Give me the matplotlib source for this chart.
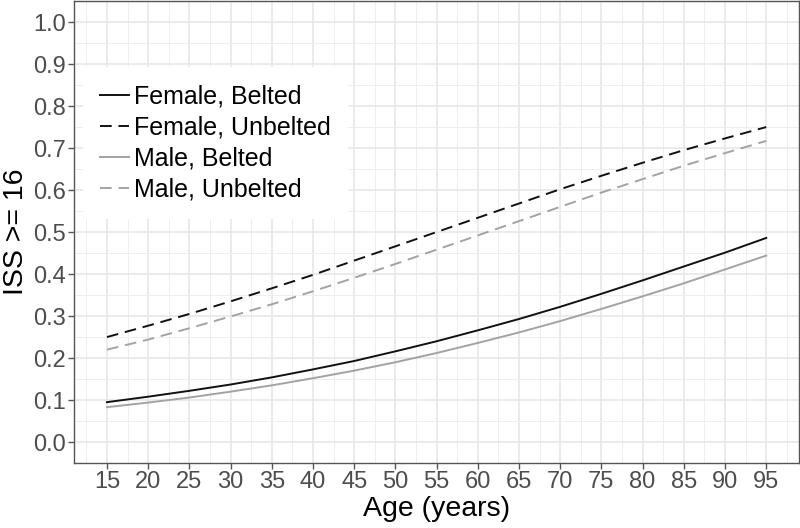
import matplotlib
matplotlib.use("Agg")
import matplotlib.pyplot as plt
from matplotlib.ticker import MultipleLocator, FormatStrFormatter

plt.rcParams["font.family"] = ["Liberation Sans", "DejaVu Sans"]

ages = [15, 20, 25, 30, 35, 40, 45, 50, 55, 60, 65, 70, 75, 80, 85, 90, 95]
female_belted = [0.095, 0.108, 0.122, 0.137, 0.154, 0.173, 0.193, 0.216, 0.240,
                 0.266, 0.293, 0.322, 0.353, 0.385, 0.418, 0.451, 0.486]
female_unbelted = [0.250, 0.277, 0.305, 0.335, 0.366, 0.398, 0.432, 0.466, 0.500,
                   0.534, 0.568, 0.602, 0.634, 0.665, 0.695, 0.723, 0.750]
male_belted = [0.083, 0.094, 0.106, 0.120, 0.135, 0.152, 0.170, 0.190, 0.212,
               0.236, 0.261, 0.288, 0.317, 0.347, 0.378, 0.411, 0.444]
male_unbelted = [0.220, 0.244, 0.271, 0.299, 0.328, 0.359, 0.391, 0.424, 0.458,
                 0.492, 0.526, 0.560, 0.594, 0.626, 0.658, 0.688, 0.717]

series = [
    ("Female, Belted", female_belted, "#111111", "-"),
    ("Female, Unbelted", female_unbelted, "#111111", "--"),
    ("Male, Belted", male_belted, "#a3a3a3", "-"),
    ("Male, Unbelted", male_unbelted, "#a3a3a3", "--"),
]

fig = plt.figure(figsize=(8, 5.28), dpi=100)
ax = fig.add_axes([0.0925, 0.123, 0.9065, 0.875])

for label, vals, color, ls in series:
    line, = ax.plot(ages, vals, color=color, lw=1.4, ls=ls, label=label)
    if ls == "--":
        line.set_dashes((6, 3.5))

ax.set_xlim(11, 99)
ax.set_ylim(-0.05, 1.05)
ax.set_xticks(ages)
ax.xaxis.set_minor_locator(MultipleLocator(2.5))
ax.yaxis.set_major_locator(MultipleLocator(0.1))
ax.yaxis.set_minor_locator(MultipleLocator(0.05))
ax.yaxis.set_major_formatter(FormatStrFormatter("%.1f"))

ax.grid(which="major", color="#e6e6e6", lw=1.1)
ax.grid(which="minor", color="#eeeeee", lw=0.7)
ax.set_axisbelow(True)

ax.tick_params(which="major", length=4, width=1, color="#555555",
               labelcolor="#4d4d4d", labelsize=17, pad=2)
ax.tick_params(which="minor", length=0)
for sp in ax.spines.values():
    sp.set_color("#555555")
    sp.set_linewidth(1)

ax.set_xlabel("Age (years)", fontsize=20.5, labelpad=2)
ax.set_ylabel("ISS >= 16", fontsize=20.5, labelpad=3)

leg = ax.legend(loc="upper left", bbox_to_anchor=(0.012, 0.857), fontsize=18,
                handlelength=1.15, handletextpad=0.2, labelspacing=0.28,
                borderpad=0.7, borderaxespad=0, frameon=True, fancybox=False)
leg.get_frame().set_edgecolor("none")
leg.get_frame().set_facecolor("white")
leg.get_frame().set_alpha(1)

fig.savefig("out.png", dpi=100)
